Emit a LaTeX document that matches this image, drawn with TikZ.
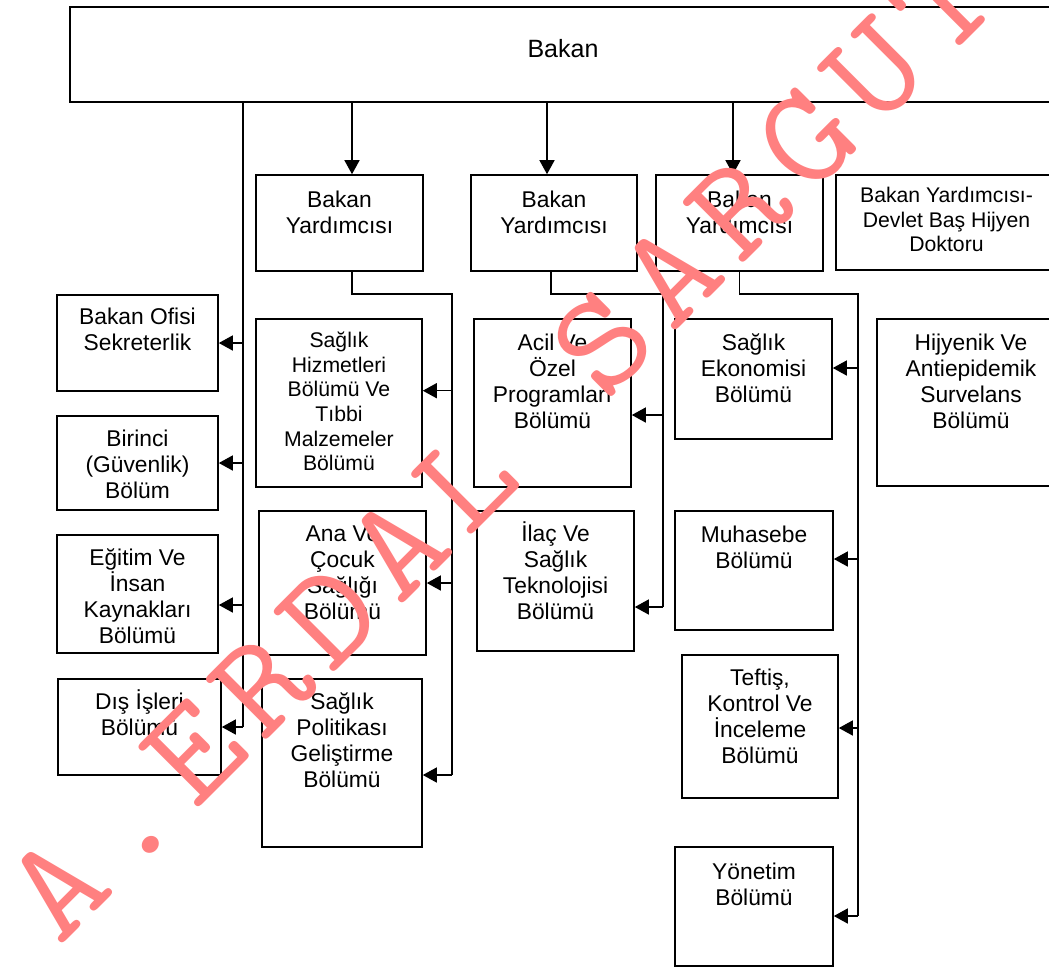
\documentclass[tikz,border=0pt]{standalone}
\usepackage{fontspec}
\setmainfont{Liberation Sans}
\newfontfamily\wmfont{Latin Modern Mono}
\usetikzlibrary{arrows.meta,fit}
\definecolor{wmpink}{RGB}{255,128,128}
\tikzset{
  boxst/.style={draw=black, line width=1.6pt, inner sep=0pt},
  txt/.style={anchor=north, align=center, inner sep=0pt, font=\fontsize{22.8}{26}\selectfont},
  txts/.style={txt, font=\fontsize{21.2}{24.7}\selectfont},
  conn/.style={line width=1.5pt},
  arr/.style={conn, -{Triangle[length=14pt,width=15pt]}},
  wm/.style={text=wmpink, font=\wmfont\fontsize{142}{142}\selectfont, anchor=base, rotate=45, xscale=1.12, inner sep=0pt},
}
% [text style] name x1 y1 x2 y2 text-offset text
\newcommand\obox[8][txt]{%
  \node[boxst, fit={(#3,#4)(#5,#6)}] (#2) {};
  \node[#1] (#2t) at ([yshift=-#7pt]#2.north) {\rule{0pt}{21pt}#8};
}
\begin{document}
\begin{tikzpicture}[x=1pt,y=-1pt]
\begin{scope}
\clip (0,0) rectangle (1049,970);
% top
\node[boxst, fit={(70,7)(1056,102)}] (Bakan) {};
\node[anchor=base, inner sep=0pt, font=\fontsize{25}{30}\selectfont] (Bakant) at (563,57) {Bakan};
% deputies
\obox{BY1}{256}{175}{423}{271}{12}{Bakan\\Yardımcısı}
\obox{BY2}{471}{175}{637}{271}{12}{Bakan\\Yardımcısı}
\obox{BY3}{656}{175}{823}{271}{12}{Bakan\\Yardımcısı}
\obox[txts]{BY4}{836}{175}{1057}{270}{7}{Bakan Yardımcısı-\\Devlet Baş Hijyen\\Doktoru}
% left column
\obox{BO}{57}{295}{218}{391}{9}{Bakan Ofisi\\Sekreterlik}
\obox{Bir}{57}{416}{218}{510}{10}{Birinci\\(Güvenlik)\\Bölüm}
\obox{Eg}{57}{535}{218}{653}{10}{Eğitim Ve\\İnsan\\Kaynakları\\Bölümü}
\obox{Dis}{58}{679}{221}{775}{10}{Dış İşleri\\Bölümü}
% second column
\obox[txts]{SH}{256}{319}{422}{487}{8}{Sağlık\\Hizmetleri\\Bölümü Ve\\Tıbbi\\Malzemeler\\Bölümü}
\obox{Ana}{259}{511}{426}{655}{10}{Ana Ve\\Çocuk\\Sağlığı\\Bölümü}
\obox{Pol}{262}{679}{422}{847}{10}{Sağlık\\Politikası\\Geliştirme\\Bölümü}
% third column
\obox{Ac}{474}{319}{631}{487}{11}{Acil Ve\\Özel\\Programları\\Bölümü}
\obox{Il}{477}{511}{634}{651}{10}{İlaç Ve\\Sağlık\\Teknolojisi\\Bölümü}
% fourth column
\obox{Ek}{675}{319}{832}{439}{11}{Sağlık\\Ekonomisi\\Bölümü}
\obox{Mu}{675}{511}{833}{630}{11}{Muhasebe\\Bölümü}
\obox{Te}{682}{655}{838}{798}{10}{Teftiş,\\Kontrol Ve\\İnceleme\\Bölümü}
\obox{Yo}{675}{847}{833}{966}{12}{Yönetim\\Bölümü}
% fifth column
\obox{Hi}{877}{319}{1065}{486}{11}{Hijyenik Ve\\Antiepidemik\\Survelans\\Bölümü}
% helper coordinates
\coordinate (xa) at (243,0);
\coordinate (xb) at (352,0);
\coordinate (xc) at (547,0);
\coordinate (xd) at (733,0);
\coordinate (xf) at (551,0);
\coordinate (bus1) at (452,294);
\coordinate (bus2) at (663,294);
\coordinate (bus3) at (858,294);
\coordinate (aEg) at ([yshift=-11pt]Eg.east);
\coordinate (aSH) at ([yshift=12.3pt]SH.east);
\coordinate (aPol) at ([yshift=-12pt]Pol.east);
\coordinate (aAc) at ([yshift=-12pt]Ac.east);
\coordinate (aIl) at ([yshift=-26pt]Il.east);
\coordinate (aEk) at ([yshift=11pt]Ek.east);
\coordinate (aMu) at ([yshift=11.5pt]Mu.east);
\coordinate (aTe) at ([yshift=-1.5pt]Te.east);
\coordinate (aYo) at ([yshift=-9.5pt]Yo.east);
% Bakan to deputies
\draw[arr] (Bakan.south -| xb) -- (BY1.north -| xb);
\draw[arr] (Bakan.south -| xc) -- (BY2.north -| xc);
\draw[arr] (Bakan.south -| xd) -- (BY3.north -| xd);
% left trunk
\draw[conn] (Bakan.south -| xa) -- (Dis.east -| xa);
\draw[arr] (BO.east -| xa) -- (BO.east);
\draw[arr] (Bir.east -| xa) -- (Bir.east);
\draw[arr] (aEg -| xa) -- (aEg);
\draw[arr] (Dis.east -| xa) -- (Dis.east);
% deputy 1
\draw[conn] (BY1.south -| xb) |- (bus1) -- (aPol -| bus1);
\draw[arr] (aSH -| bus1) -- (aSH);
\draw[arr] (Ana.east -| bus1) -- (Ana.east);
\draw[arr] (aPol -| bus1) -- (aPol);
% deputy 2
\draw[conn] (BY2.south -| xf) |- (bus2) -- (aIl -| bus2);
\draw[arr] (aAc -| bus2) -- (aAc);
\draw[arr] (aIl -| bus2) -- (aIl);
% deputy 3
\draw[conn] (BY3.south) |- (bus3) -- (aYo -| bus3);
\draw[arr] (aEk -| bus3) -- (aEk);
\draw[arr] (aMu -| bus3) -- (aMu);
\draw[arr] (aTe -| bus3) -- (aTe);
\draw[arr] (aYo -| bus3) -- (aYo);
% watermark
\foreach \ch/\i in {A/0,./1,E/2,R/3,D/4,A/5,L/6,S/8,A/9,R/10,G/11,U/12,T/13,A/14,N/15}{
  \node[wm] (wm\i) at ({60+0.7071*(40+\i*96.3)},{947-0.7071*(40+\i*96.3)}) {\ch};
}
\end{scope}
\pgfresetboundingbox
\useasboundingbox (0,0) rectangle (1049,970);
\end{tikzpicture}
\end{document}
